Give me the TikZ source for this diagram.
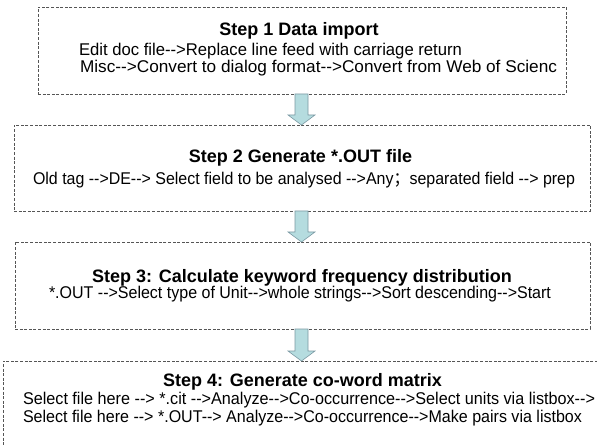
\documentclass[tikz,border=0pt]{standalone}
\usepackage{fontspec}
\usepackage{graphicx}
\setmainfont{Liberation Sans}[Ligatures=TeXOff]
\newfontfamily\cjkfont{Noto Sans CJK SC}
\usetikzlibrary{calc}
\definecolor{boxline}{HTML}{555555}
\definecolor{arrfill}{HTML}{B5DCDF}
\definecolor{arrline}{HTML}{7A98A2}
\tikzset{
  stepbox/.style={draw=boxline, line width=0.7pt, dash pattern=on 3pt off 1.6pt,
    rectangle, inner sep=0pt, outer sep=0pt, anchor=north west},
  txt/.style={font=\fontsize{17pt}{17pt}\selectfont, inner sep=0pt, outer sep=0pt, anchor=base west},
  ttl/.style={font=\fontsize{18pt}{18pt}\selectfont\bfseries, inner sep=0pt, outer sep=0pt, anchor=base},
  blockarrow/.style={fill=arrfill, draw=arrline, line width=0.6pt, line join=miter}
}
\newcommand\fitline[2]{\resizebox{#1pt}{\height}{#2}}
\newcommand\blockarr[2]{%
  \draw[blockarrow] ($(ax |- #1.south)+(-6.5,0)$) -- ($(ax |- #2.north)+(-6.5,-10)$)
    -- ($(ax |- #2.north)+(-13.5,-10)$) -- (ax |- #2.north)
    -- ($(ax |- #2.north)+(13.5,-10)$) -- ($(ax |- #2.north)+(6.5,-10)$)
    -- ($(ax |- #1.south)+(6.5,0)$) -- cycle;}
\begin{document}
\begin{tikzpicture}[x=1pt,y=-1pt]
\useasboundingbox (0,0) rectangle (597,446);
\clip (0,0) rectangle (597,446);
\coordinate (ax) at (301.5,0);
% boxes
\node[stepbox, minimum width=528pt, minimum height=87pt] (b1) at (38,7) {};
\node[stepbox, minimum width=576pt, minimum height=86pt] (b2) at (14,125) {};
\node[stepbox, minimum width=575pt, minimum height=87pt] (b3) at (15,242) {};
\node[stepbox, minimum width=640pt, minimum height=120pt] (b4) at (3,361) {};
% texts
\node[ttl] (t1) at (299,36) {Step 1 Data import};
\node[txt] (t1a) at (79,56) {\fitline{383}{Edit doc file-->Replace line feed with carriage return}};
\node[txt] (t1b) at (80,73) {\fitline{477}{Misc-->Convert to dialog format-->Convert from Web of Scienc}};
\node[ttl] (t2) at (300.5,163) {Step 2 Generate *.OUT file};
\node[txt] (t2a) at (33,185) {\fitline{542}{Old tag -->DE--> Select field to be analysed -->Any{\cjkfont ；}separated field --> prep}};
\node[ttl] (t3) at (302,283) {Step 3: Calculate keyword frequency distribution};
\node[txt] (t3a) at (49,299) {\fitline{502}{*.OUT -->Select type of Unit-->whole strings-->Sort descending-->Start}};
\node[ttl] (t4) at (302.5,386) {Step 4: Generate co-word matrix};
\node[txt] (t4a) at (23,404) {\fitline{572}{Select file here --> *.cit -->Analyze-->Co-occurrence-->Select units via listbox-->}};
\node[txt] (t4b) at (23,422) {\fitline{559}{Select file here --> *.OUT--> Analyze-->Co-occurrence-->Make pairs via listbox}};
% arrows
\blockarr{b1}{b2}
\blockarr{b2}{b3}
\blockarr{b3}{b4}
\end{tikzpicture}
\end{document}
